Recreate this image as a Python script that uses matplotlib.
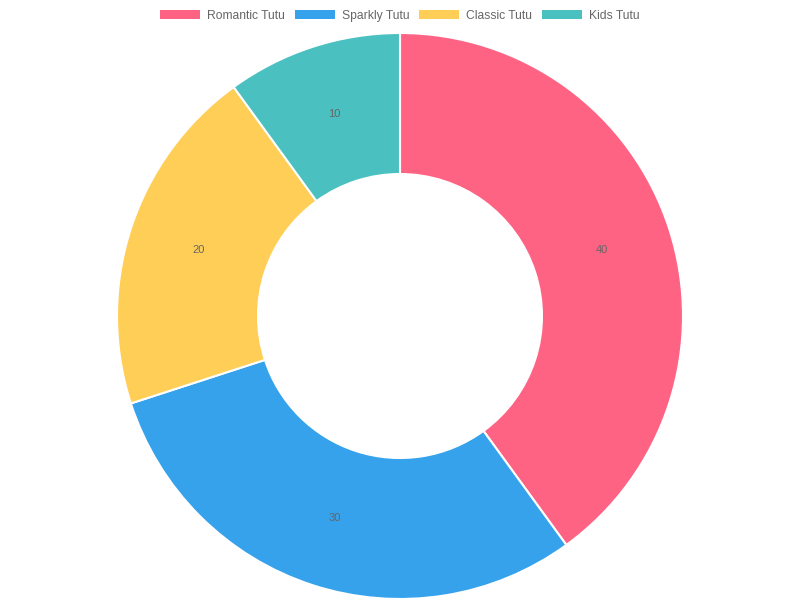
import matplotlib.pyplot as plt
from matplotlib.patches import Patch

labels = ['Romantic Tutu', 'Sparkly Tutu', 'Classic Tutu', 'Kids Tutu']
values = [40, 30, 20, 10]
colors = ['#FF6384', '#36A2EB', '#FFCE56', '#4BC0C0']

plt.rcParams['font.family'] = ['Liberation Sans', 'DejaVu Sans']

fig = plt.figure(figsize=(8, 6), dpi=100)
ax = fig.add_axes([0, 0, 1, 1])
ax.set_xlim(0, 800)
ax.set_ylim(0, 600)
ax.set_aspect('equal')
ax.axis('off')

total = sum(values)
wedges, texts, autotexts = ax.pie(
    values, colors=colors, startangle=90, counterclock=False,
    center=(400, 284), radius=283,
    wedgeprops=dict(width=141, edgecolor='white', linewidth=1.5),
    autopct=lambda p: f'{p * total / 100:.0f}', pctdistance=0.75,
    textprops=dict(color='#666666', fontsize=8),
)
ax.set_xlim(0, 800)
ax.set_ylim(0, 600)

handles = [Patch(facecolor=c, edgecolor='none') for c in colors]
fig.legend(handles, labels, loc='upper center', bbox_to_anchor=(0.5, 1.0), ncol=4,
           frameon=False, fontsize=8.7, labelcolor='#666666',
           handlelength=3.3, handleheight=0.85, handletextpad=0.6,
           columnspacing=0.8, borderaxespad=0.4)

fig.savefig('out.png', dpi=100)
